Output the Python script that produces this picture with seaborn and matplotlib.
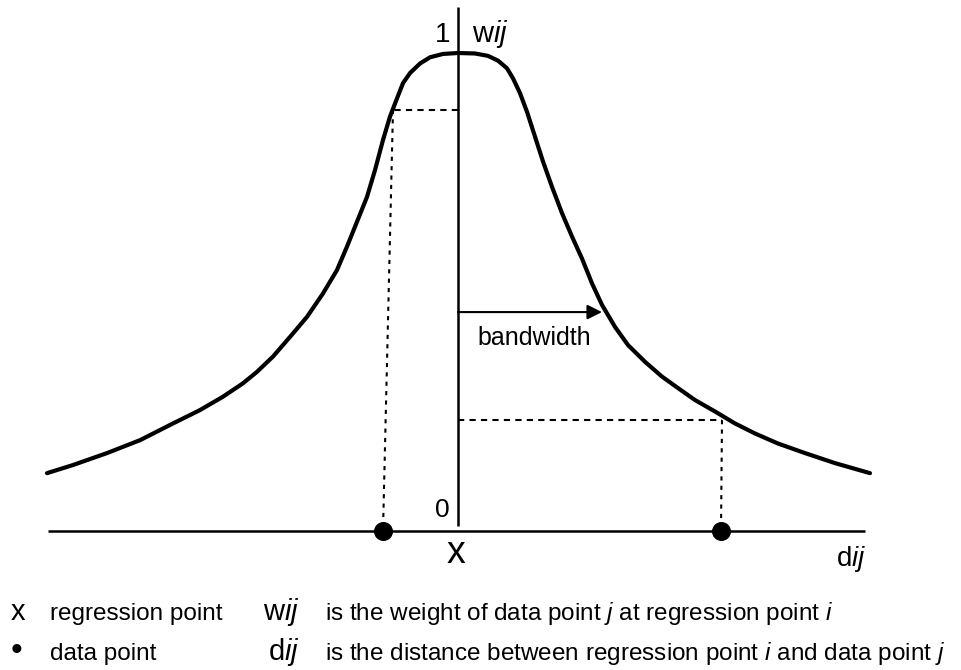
import numpy as np
import pandas as pd
import seaborn as sns
import matplotlib.pyplot as plt

# curve: distance d (hundreds of px from the axis), weight w
left_d = [-4.11, -3.85, -3.51, -3.18, -2.85, -2.58, -2.35, -2.15, -2.01, -1.85,
          -1.68, -1.51, -1.35, -1.21, -1.11, -1.01, -0.91, -0.83, -0.75, -0.68,
          -0.61, -0.55, -0.48, -0.38, -0.28, -0.15, 0.0]
left_w = [0.121, 0.138, 0.163, 0.190, 0.225, 0.253, 0.281, 0.309, 0.333, 0.365,
          0.406, 0.448, 0.497, 0.546, 0.595, 0.647, 0.699, 0.755, 0.818, 0.867,
          0.905, 0.937, 0.958, 0.978, 0.991, 0.998, 1.0]
right_d = [0.17, 0.30, 0.40, 0.49, 0.55, 0.62, 0.69, 0.77, 0.85, 0.94,
           1.04, 1.14, 1.24, 1.34, 1.44, 1.57, 1.70, 1.87, 2.04, 2.20,
           2.37, 2.57, 2.77, 2.97, 3.20, 3.47, 3.77, 4.12]
right_w = [0.999, 0.994, 0.984, 0.968, 0.947, 0.916, 0.877, 0.825, 0.773, 0.720,
           0.665, 0.616, 0.570, 0.518, 0.473, 0.427, 0.389, 0.354, 0.323, 0.299,
           0.274, 0.250, 0.225, 0.204, 0.183, 0.163, 0.142, 0.121]

# the two data points on the distance axis, and where their weights are read
point_d = [-0.75, 2.63]
read_d = [-0.65, 2.64]
read_w = [0.881, 0.232]
bandwidth = 1.44
bandwidth_w = 0.458

legend_sym = ["x", "\u2022"]
legend_name = ["regression point", "data point"]
legend_var = ["w", "d"]
legend_desc = [r"is the weight of data point $\mathit{j}$ at regression point $\mathit{i}$",
               r"is the distance between regression point $\mathit{i}$ and data point $\mathit{j}$"]

sns.set_style("white")
plt.rcParams["font.family"] = ["Liberation Sans", "DejaVu Sans"]
plt.rcParams["text.color"] = "black"
plt.rcParams["mathtext.fontset"] = "custom"
plt.rcParams["mathtext.rm"] = "Liberation Sans"
plt.rcParams["mathtext.it"] = "Liberation Sans:italic"

def X(px):
    return (px - 458) / 100

def Y(py):
    return (531 - py) / 478

fig = plt.figure(figsize=(9.62, 6.70), dpi=100)
ax = fig.add_axes([0, 0, 1, 1])
ax.set_xlim(X(0), X(962))
ax.set_ylim(Y(670), Y(0))
ax.axis("off")

curve = pd.DataFrame({"d": left_d + right_d, "w": left_w + right_w})
sns.lineplot(data=curve, x="d", y="w", sort=False, estimator=None,
             color="black", lw=3, ax=ax, zorder=3,
             solid_joinstyle="round", solid_capstyle="round")

# axes
ax.plot([X(48), X(865)], [0, 0], color="black", lw=1.8, solid_capstyle="butt")
ax.plot([0, 0], [Y(526), Y(7)], color="black", lw=1.8, solid_capstyle="butt")

# dashed guides
for pd_, rd, rw in zip(point_d, read_d, read_w):
    ax.plot([0, rd], [rw, rw], color="black", lw=1.5, ls=(0, (3, 2.5)))
    ax.plot([rd, pd_], [rw, 0], color="black", lw=1.5, ls=(0, (2, 2.5)))

sns.scatterplot(x=point_d, y=[0, 0], s=160, color="black", edgecolor="black",
                ax=ax, zorder=5)

# bandwidth arrow
ax.annotate("", xy=(bandwidth, bandwidth_w), xytext=(0, bandwidth_w),
            arrowprops=dict(arrowstyle="-|>", color="black", lw=1.5,
                            mutation_scale=22, shrinkA=0, shrinkB=0))
ax.text(X(477), Y(345), "bandwidth", fontsize=18, ha="left", va="baseline")

# axis labels
ax.text(X(450), Y(42), "1", fontsize=20, ha="right", va="baseline")
ax.text(X(472), Y(42), r"w$\mathit{ij}$", fontsize=21, ha="left", va="baseline")
ax.text(X(450), Y(517), "0", fontsize=19, ha="right", va="baseline")
ax.text(X(456), Y(563), "x", fontsize=27, ha="center", va="baseline")
ax.text(X(836), Y(566), r"d$\mathit{ij}$", fontsize=20, ha="left", va="baseline")

# key below the chart
baselines = [620, 660]
for i in range(2):
    b = Y(baselines[i])
    if i == 0:
        ax.text(X(18), b, legend_sym[i], fontsize=21, ha="center", va="baseline")
    else:
        ax.text(X(17), b, legend_sym[i], fontsize=24, ha="center", va="baseline")
    ax.text(X(50), b, legend_name[i], fontsize=17.5, ha="left", va="baseline")
    ax.text(X(300), b, legend_var[i] + r"$\mathit{ij}$", fontsize=21, ha="right", va="baseline")
    ax.text(X(325), b, legend_desc[i], fontsize=17.5, ha="left", va="baseline")

fig.savefig("out.png", dpi=100)
